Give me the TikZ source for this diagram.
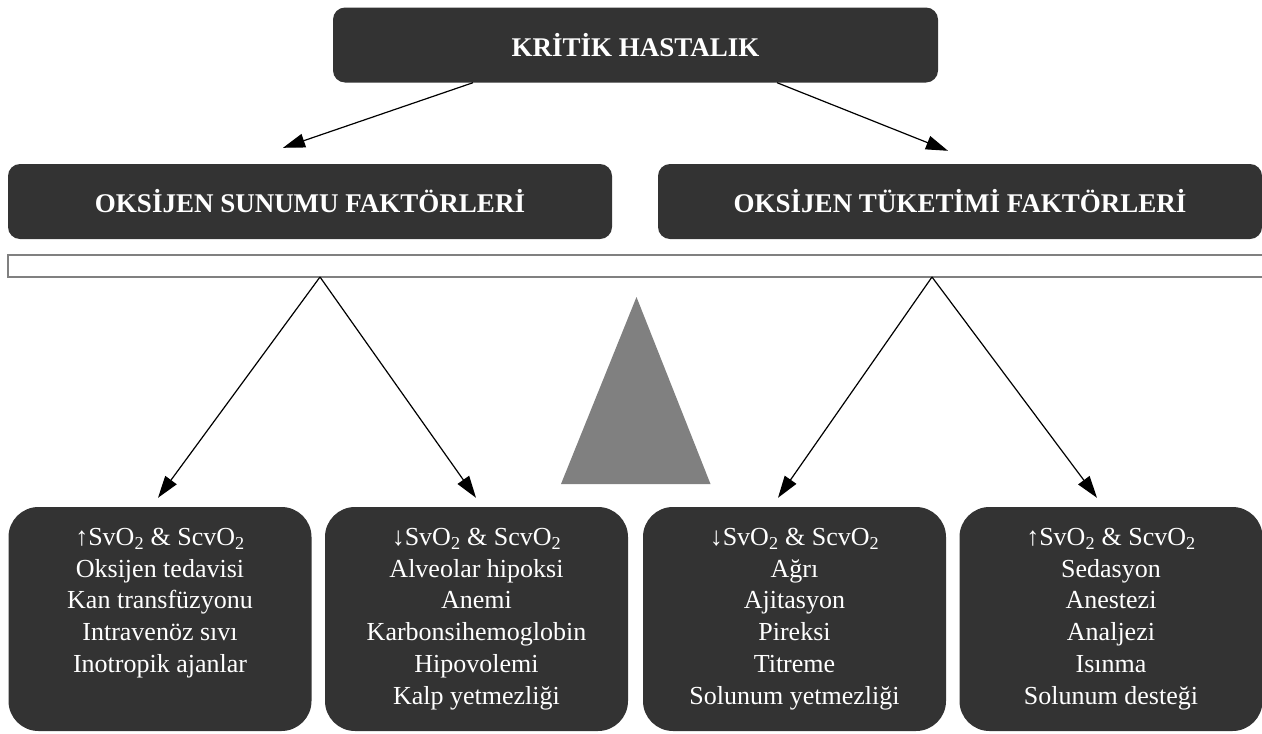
\documentclass[tikz,border=0pt]{standalone}
\usepackage{fontspec}
\setmainfont{Liberation Serif}
\usetikzlibrary{arrows.meta}

\definecolor{boxgray}{RGB}{51,51,51}
\definecolor{midgray}{RGB}{128,128,128}

\begin{document}
\begin{tikzpicture}[x=1pt,y=-1pt,
        headbox/.style={fill=boxgray, rounded corners=12pt, text=white, inner sep=0pt,
            font=\bfseries\fontsize{27}{32}\selectfont, minimum height=75pt},
        listbox/.style={fill=boxgray, rounded corners=30pt, text=white, inner sep=0pt,
            font=\fontsize{26}{31.7}\selectfont, align=center,
            minimum width=303pt, minimum height=224pt},
        arr/.style={-{Triangle[length=22pt,width=14pt]}, line width=1.2pt}]
        \useasboundingbox (0,0) rectangle (1262,734);

        \node[headbox, minimum width=605pt](krit) at (635.5,45){KRİTİK HASTALIK};
        \node[headbox, minimum width=604pt](sunum) at (310,201.5){OKSİJEN SUNUMU FAKTÖRLERİ};
        \node[headbox, minimum width=604pt](tuketim) at (960,201.5){OKSİJEN TÜKETİMİ FAKTÖRLERİ};

        \node[listbox](b1) at (160,619){↑SvO\textsubscript{2} \& ScvO\textsubscript{2}\\Oksijen tedavisi\\Kan transfüzyonu\\Intravenöz sıvı\\Inotropik ajanlar\\\vphantom{Kğ}};
        \node[listbox](b2) at (476.5,619){↓SvO\textsubscript{2} \& ScvO\textsubscript{2}\\Alveolar hipoksi\\Anemi\\Karbonsihemoglobin\\Hipovolemi\\Kalp yetmezliği};
        \node[listbox](b3) at (794.5,619){↓SvO\textsubscript{2} \& ScvO\textsubscript{2}\\Ağrı\\Ajitasyon\\Pireksi\\Titreme\\Solunum yetmezliği};
        \node[listbox](b4) at (1111,619){↑SvO\textsubscript{2} \& ScvO\textsubscript{2}\\Sedasyon\\Anestezi\\Analjezi\\Isınma\\Solunum desteği};

        % balance bar and pivot
        \draw[midgray, line width=1.5pt](1262,255)--(8,255)--(8,277)--(1262,277);
        \fill[midgray](636.5,297)--(710.5,484)--(561,484)--cycle;

        \coordinate(kritL) at ([xshift=-162.5pt]krit.south);
        \coordinate(kritR) at ([xshift=141.5pt]krit.south);
        \coordinate(sunumT) at ([xshift=-27pt,yshift=16pt]sunum.north);
        \coordinate(tuketimT) at ([xshift=-12pt,yshift=13pt]tuketim.north);
        \coordinate(barL) at (320,277);
        \coordinate(barR) at (932,277);
        \coordinate(t1) at ([xshift=-2pt,yshift=9pt]b1.north);
        \coordinate(t2) at ([xshift=-0.5pt,yshift=9pt]b2.north);
        \coordinate(t3) at ([xshift=-16.5pt,yshift=9pt]b3.north);
        \coordinate(t4) at ([xshift=-14pt,yshift=9pt]b4.north);

        \draw[arr](kritL)--(sunumT);
        \draw[arr](kritR)--(tuketimT);
        \draw[arr](barL)--(t1);
        \draw[arr](barL)--(t2);
        \draw[arr](barR)--(t3);
        \draw[arr](barR)--(t4);
    \end{tikzpicture}
\end{document}
